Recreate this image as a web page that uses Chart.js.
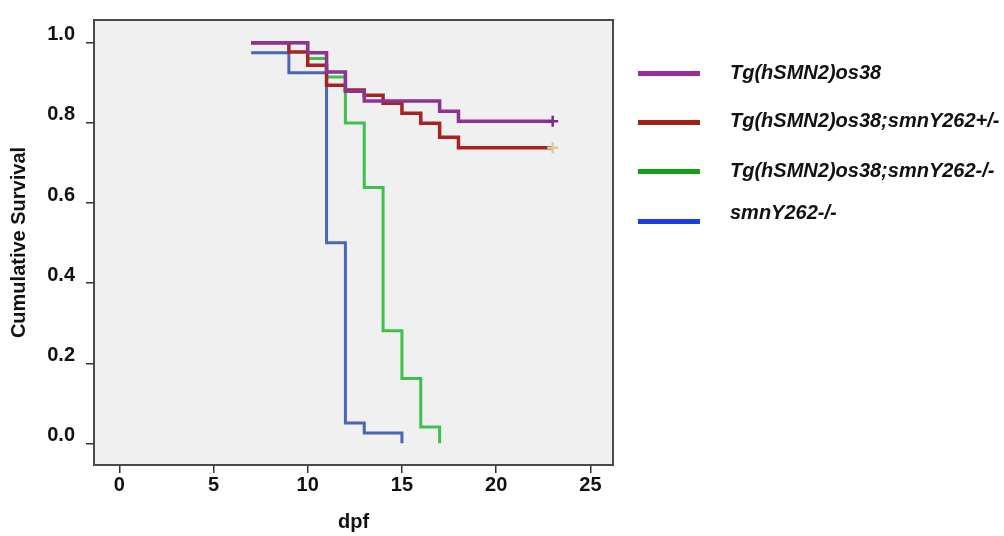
<!DOCTYPE html>
<html>
<head>
<meta charset="utf-8">
<script src="https://cdn.jsdelivr.net/npm/chart.js@4.4.1/dist/chart.umd.min.js"></script>
<style>
    body { margin: 0; background: #ffffff; }
    #wrap { position: relative; width: 1004px; height: 536px; }
    .lg-line { position: absolute; left: 638px; width: 62px; height: 5px; }
    .lg-text {
        position: absolute; left: 730px; height: 24px; line-height: 24px;
        font: italic bold 20px "Liberation Sans", Arial, sans-serif;
        color: #111111; white-space: nowrap;
    }
</style>
</head>
<body>
<div id="wrap">
    <canvas id="kmChart" width="1004" height="536"></canvas>
    <div id="legend"></div>
</div>
<script>
// 그림에서 읽은 생존 곡선 값
const seriesNames = [
    'Tg(hSMN2)os38',
    'Tg(hSMN2)os38;smnY262+/-',
    'Tg(hSMN2)os38;smnY262-/-',
    'smnY262-/-'
];

const os38Days = [7, 10, 11, 12, 13, 17, 18, 23];
const os38Surv = [1.0, 0.975, 0.927, 0.879, 0.855, 0.829, 0.804, 0.804];

const hetDays = [7, 9, 10, 11, 12, 13, 14, 15, 16, 17, 18, 23];
const hetSurv = [1.0, 0.977, 0.944, 0.894, 0.882, 0.869, 0.849, 0.824, 0.799, 0.764, 0.738, 0.738];

const homoDays = [7, 10, 11, 12, 13, 14, 15, 16, 17];
const homoSurv = [1.0, 0.961, 0.915, 0.800, 0.639, 0.281, 0.162, 0.041, 0.0];

const mutDays = [7, 9, 11, 12, 13, 15];
const mutSurv = [0.975, 0.925, 0.501, 0.051, 0.026, 0.0];

// 마지막 점이 중도절단(+) 표시인지
const censoredAtEnd = [true, true, false, false];

const xTickValues = [0, 5, 10, 15, 20, 25];
const yTickValues = [0.0, 0.2, 0.4, 0.6, 0.8, 1.0];

// 스타일
const lineColors = ['#8c3393', '#a82222', '#3fbf4c', '#4a66b6'];
const censorColors = ['#7e2a88', '#d8cf98', '#3fbf4c', '#4a66b6'];
const legendColors = ['#9a2aa0', '#a21f14', '#14a014', '#1a3ee6'];
const lineWidths = [3.5, 3.5, 3, 3];
const legendLineY = [73, 122, 171, 221];
const legendTextY = [73, 121, 171, 213];

const FONT = '"Liberation Sans", Arial, sans-serif';

function toPoints(days, surv) {
    return days.map((d, i) => ({ x: d, y: surv[i] }));
}

const allSeries = [
    toPoints(os38Days, os38Surv),
    toPoints(hetDays, hetSurv),
    toPoints(homoDays, homoSurv),
    toPoints(mutDays, mutSurv)
];

// 플롯 배경과 테두리
const framePlugin = {
    id: 'frame',
    beforeDraw(chart) {
        const { ctx, chartArea: a } = chart;
        ctx.save();
        ctx.fillStyle = '#f0f0f0';
        ctx.fillRect(a.left, a.top, a.right - a.left, a.bottom - a.top);
        ctx.restore();
    },
    afterDraw(chart) {
        const { ctx, chartArea: a } = chart;
        ctx.save();
        ctx.strokeStyle = '#4a4a4a';
        ctx.lineWidth = 2;
        ctx.strokeRect(a.left, a.top, a.right - a.left, a.bottom - a.top);
        ctx.restore();
    }
};

const datasets = allSeries.map((pts, k) => ({
    label: seriesNames[k],
    data: pts,
    stepped: 'before',
    borderColor: lineColors[k],
    borderWidth: lineWidths[k],
    fill: false,
    pointStyle: 'cross',
    pointRadius: c => (censoredAtEnd[k] && c.dataIndex === pts.length - 1) ? 5.5 : 0,
    pointBorderColor: censorColors[k],
    pointBorderWidth: 2.5,
    pointHoverRadius: 0
}));

const tickFont = { family: FONT, size: 20, weight: 'bold' };
const tickGrid = { drawOnChartArea: false, drawTicks: true, tickLength: 8, color: '#333333', lineWidth: 1.5 };

new Chart(document.getElementById('kmChart').getContext('2d'), {
    type: 'line',
    data: { datasets: datasets },
    options: {
        responsive: false,
        animation: false,
        layout: { padding: { left: 0, top: 20, right: 391, bottom: 0 } },
        plugins: { legend: { display: false }, tooltip: { enabled: false } },
        scales: {
            x: {
                type: 'linear',
                min: -1.34,
                max: 26.2,
                afterBuildTicks: s => { s.ticks = xTickValues.map(v => ({ value: v })); },
                afterFit: s => { s.height = 71; },
                border: { display: false },
                grid: tickGrid,
                ticks: { autoSkip: false, maxRotation: 0, padding: 0, color: '#111111', font: tickFont },
                title: { display: true, text: 'dpf', color: '#111111', font: tickFont, padding: { top: 0, bottom: 2 } }
            },
            y: {
                type: 'linear',
                min: -0.054,
                max: 1.057,
                afterBuildTicks: s => { s.ticks = yTickValues.map(v => ({ value: v })); },
                // 폭 고정, 라벨 여백이 플롯 위치를 밀지 않게
                afterFit: s => { s.width = 94; s.paddingTop = 0; s.paddingBottom = 0; },
                border: { display: false },
                grid: tickGrid,
                ticks: {
                    padding: 11, labelOffset: -8, color: '#111111', font: tickFont,
                    callback: v => v.toFixed(1)
                },
                title: { display: true, text: 'Cumulative Survival', color: '#111111', font: tickFont, padding: { top: 7, bottom: 0 } }
            }
        }
    },
    plugins: [framePlugin]
});

// 범례 (HTML)
const legendEl = document.getElementById('legend');
seriesNames.forEach((name, k) => {
    const line = document.createElement('div');
    line.className = 'lg-line';
    line.style.top = (legendLineY[k] - 2.5) + 'px';
    line.style.background = legendColors[k];
    legendEl.appendChild(line);

    const text = document.createElement('div');
    text.className = 'lg-text';
    text.style.top = (legendTextY[k] - 12) + 'px';
    text.textContent = name;
    legendEl.appendChild(text);
});
</script>
</body>
</html>
